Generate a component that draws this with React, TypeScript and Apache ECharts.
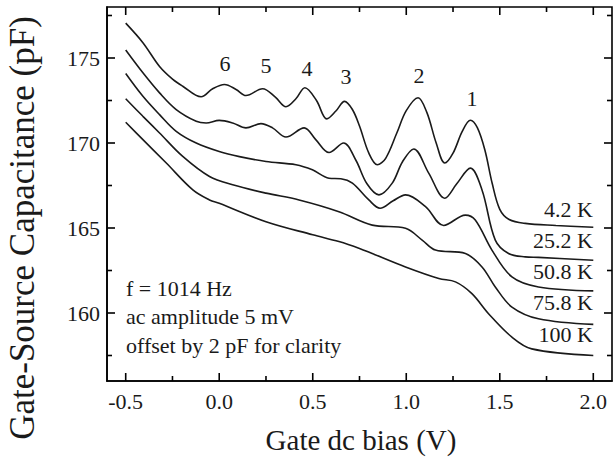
import React, { useEffect, useRef } from "react";
import * as echarts from "echarts";

// Gate dc bias (V) vs Gate-Source capacitance (pF), curves offset by 2 pF
const curve4_2K: [number, number][] = [
  [-0.5, 177.05], [-0.408, 175.9], [-0.319, 174.5], [-0.248, 173.74], [-0.195, 173.34],
  [-0.097, 172.72], [-0.035, 173.19], [0.028, 173.44], [0.09, 173.15], [0.143, 172.79],
  [0.232, 173.19], [0.3, 172.7], [0.357, 172.13], [0.41, 172.6], [0.458, 173.25],
  [0.52, 172.5], [0.575, 171.42], [0.625, 171.9], [0.67, 172.45], [0.712, 171.97],
  [0.75, 171.0], [0.8, 169.4], [0.845, 168.72], [0.89, 169.1], [0.95, 170.6],
  [1.0, 171.9], [1.063, 172.66], [1.11, 171.8], [1.16, 170.0], [1.206, 168.82],
  [1.25, 169.4], [1.3, 170.7], [1.343, 171.34], [1.38, 170.9], [1.42, 169.6],
  [1.46, 167.6], [1.5, 166.1], [1.55, 165.5], [1.636, 165.27], [1.8, 165.15], [2.0, 165.04],
];
const curve25_2K: [number, number][] = [
  [-0.5, 175.47], [-0.408, 174.13], [-0.319, 172.95], [-0.23, 171.97], [-0.123, 171.28],
  [-0.07, 171.18], [0.0, 171.33], [0.072, 171.18], [0.143, 170.89], [0.223, 171.14],
  [0.285, 170.89], [0.357, 170.35], [0.454, 170.89], [0.516, 170.2], [0.587, 169.44],
  [0.665, 170.0], [0.73, 169.0], [0.79, 167.6], [0.854, 166.95], [0.925, 167.64],
  [0.98, 168.9], [1.04, 169.65], [1.12, 168.23], [1.206, 166.75], [1.27, 167.6],
  [1.343, 168.52], [1.405, 167.24], [1.476, 164.29], [1.547, 163.5], [1.636, 163.3],
  [1.707, 163.27], [2.0, 163.1],
];
const curve50_8K: [number, number][] = [
  [-0.5, 174.09], [-0.408, 172.75], [-0.319, 171.67], [-0.23, 170.69], [-0.123, 170.0],
  [0.0, 169.5], [0.108, 169.2], [0.25, 168.91], [0.41, 168.72], [0.498, 168.42],
  [0.587, 167.93], [0.65, 167.9], [0.712, 167.64], [0.8, 166.65], [0.86, 166.16],
  [0.93, 166.6], [0.996, 166.95], [1.103, 166.26], [1.2, 165.15], [1.316, 165.76],
  [1.369, 165.47], [1.458, 163.7], [1.565, 162.12], [1.707, 161.53], [2.0, 161.3],
];
const curve75_8K: [number, number][] = [
  [-0.5, 172.6], [-0.408, 171.57], [-0.319, 170.59], [-0.195, 169.21], [-0.052, 168.03],
  [0.072, 167.54], [0.25, 167.05], [0.427, 166.65], [0.64, 165.96], [0.818, 165.17],
  [0.996, 164.98], [1.085, 164.29], [1.156, 163.7], [1.316, 163.5], [1.405, 162.71],
  [1.476, 161.53], [1.565, 160.35], [1.707, 159.66], [2.0, 159.33],
];
const curve100K: [number, number][] = [
  [-0.5, 171.22], [-0.408, 170.2], [-0.283, 168.82], [-0.141, 167.24], [-0.052, 166.65],
  [0.0, 166.45], [0.25, 165.37], [0.5, 164.6], [0.64, 164.2], [0.75, 163.8],
  [0.818, 163.5], [0.996, 162.71], [1.174, 162.03], [1.263, 161.83], [1.351, 161.14],
  [1.44, 159.96], [1.565, 158.58], [1.671, 157.89], [2.0, 157.5],
];

const seriesNames = ["4.2 K", "25.2 K", "50.8 K", "75.8 K", "100 K"];
const seriesData = [curve4_2K, curve25_2K, curve50_8K, curve75_8K, curve100K];

const X_MIN = -0.6;
const X_MAX = 2.1;
const Y_MIN = 156;
const Y_MAX = 178;
const xMajorTicks = [-0.5, 0.0, 0.5, 1.0, 1.5, 2.0];
const xMinorTicks = [-0.25, 0.25, 0.75, 1.25, 1.75];
const yMajorTicks = [160, 165, 170, 175];
const yMinorTicks = [157.5, 162.5, 167.5, 172.5, 177.5];

const peakLabels = ["6", "5", "4", "3", "2", "1"];
const noteLines = ["f = 1014 Hz", "ac amplitude 5 mV", "offset by 2 pF for clarity"];

const FONT = "Liberation Serif, Times New Roman, serif";
const INK = "#000000";

export default function App() {
  const ref = useRef<HTMLDivElement>(null);
  useEffect(() => {
    if (!ref.current) return;
    const chart = echarts.init(ref.current, undefined, { renderer: "svg" });

    // tick marks: [value, side(0 bottom,1 top,2 left,3 right), length]
    const tickData: number[][] = [];
    xMajorTicks.forEach((v) => { tickData.push([v, 0, 8]); tickData.push([v, 1, 8]); });
    xMinorTicks.forEach((v) => { tickData.push([v, 0, 5]); tickData.push([v, 1, 5]); });
    yMajorTicks.forEach((v) => { tickData.push([v, 2, 8]); tickData.push([v, 3, 8]); });
    yMinorTicks.forEach((v) => { tickData.push([v, 2, 5]); tickData.push([v, 3, 5]); });

    const labelPeaks = [
      { x: 225, y: 63 }, { x: 266, y: 65 }, { x: 307, y: 68 },
      { x: 346, y: 76 }, { x: 419, y: 75 }, { x: 472, y: 98 },
    ];
    const tempPos = [209, 240, 271, 302, 334];
    const notePos = [288, 316, 345];

    const txt = (text: string, x: number, y: number, size: number, align: string, rotation = 0) => ({
      type: "text",
      x,
      y,
      rotation,
      style: { text, fill: "#1a1a1a", fontFamily: FONT, fontSize: size, align, verticalAlign: "middle" },
    });

    const graphics: any[] = [];
    peakLabels.forEach((t, i) => graphics.push(txt(t, labelPeaks[i].x, labelPeaks[i].y, 22, "center")));
    seriesNames.forEach((t, i) => graphics.push(txt(t, 593, tempPos[i], 22, "right")));
    noteLines.forEach((t, i) => graphics.push(txt(t, 126, notePos[i], 22, "left")));
    graphics.push(txt("Gate dc bias (V)", 361, 440, 29, "center"));
    graphics.push(txt("Gate-Source Capacitance (pF)", 22, 228, 35, "center", Math.PI / 2));

    chart.setOption({
      animation: false,
      grid: {
        left: 107, right: 1, top: 7, bottom: 76,
        show: true, borderColor: INK, borderWidth: 1.6,
      },
      xAxis: {
        type: "value",
        min: X_MIN,
        max: X_MAX,
        splitLine: { show: false },
        axisLine: { show: true, onZero: false, lineStyle: { color: INK, width: 1.6 } },
        axisTick: { show: false },
        axisLabel: {
          show: true,
          customValues: xMajorTicks,
          formatter: (v: number) => v.toFixed(1),
          fontFamily: FONT,
          fontSize: 22,
          color: "#1a1a1a",
          margin: 9,
        },
      },
      yAxis: {
        type: "value",
        min: Y_MIN,
        max: Y_MAX,
        splitLine: { show: false },
        axisLine: { show: true, onZero: false, lineStyle: { color: INK, width: 1.6 } },
        axisTick: { show: false },
        axisLabel: {
          show: true,
          customValues: yMajorTicks,
          formatter: (v: number) => String(Math.round(v)),
          fontFamily: FONT,
          fontSize: 22,
          color: "#1a1a1a",
          margin: 7,
        },
      },
      series: [
        {
          type: "custom",
          name: "frameTicks",
          clip: false,
          z: 10,
          data: tickData,
          renderItem: (_params: any, api: any) => {
            const v = api.value(0);
            const side = api.value(1);
            const len = api.value(2);
            let p: number[];
            let shape: any;
            if (side === 0) {
              p = api.coord([v, Y_MIN]);
              shape = { x1: p[0], y1: p[1], x2: p[0], y2: p[1] - len };
            } else if (side === 1) {
              p = api.coord([v, Y_MAX]);
              shape = { x1: p[0], y1: p[1], x2: p[0], y2: p[1] + len };
            } else if (side === 2) {
              p = api.coord([X_MIN, v]);
              shape = { x1: p[0], y1: p[1], x2: p[0] + len, y2: p[1] };
            } else {
              p = api.coord([X_MAX, v]);
              shape = { x1: p[0], y1: p[1], x2: p[0] - len, y2: p[1] };
            }
            return { type: "line", shape, style: { stroke: INK, lineWidth: 1.6 } };
          },
        },
        ...seriesData.map((d, i) => ({
          name: seriesNames[i],
          type: "line",
          data: d,
          smooth: 0.35,
          showSymbol: false,
          lineStyle: { color: "#1a1a1a", width: 1.6 },
        })),
      ],
      graphic: graphics,
    });

    return () => chart.dispose();
  }, []);

  return <div ref={ref} style={{ width: 613, height: 457, position: "absolute", left: 0, top: 0 }} />;
}
